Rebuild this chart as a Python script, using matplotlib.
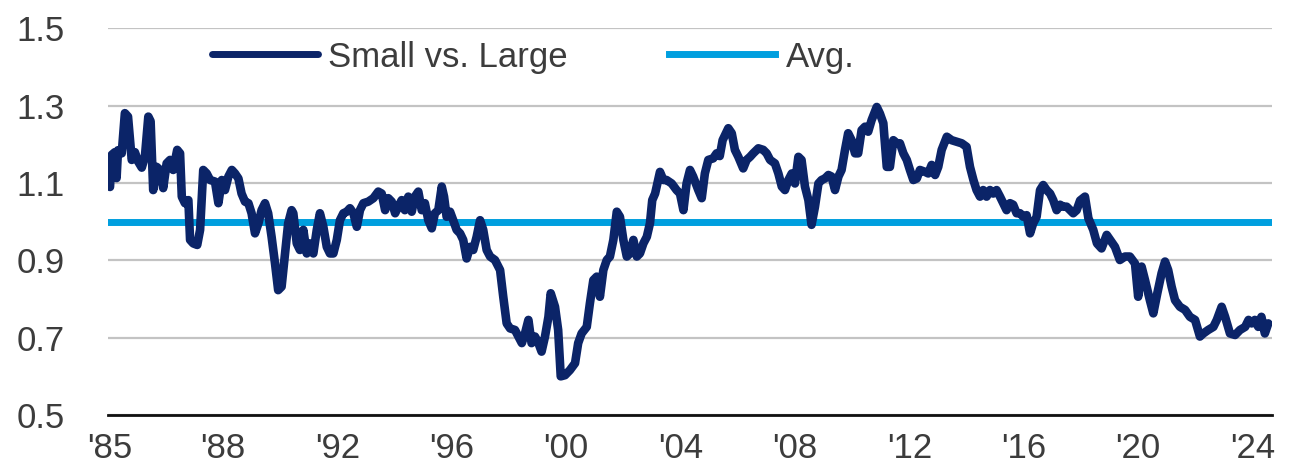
import matplotlib
matplotlib.use("Agg")
import matplotlib.pyplot as plt

plt.rcParams['font.family'] = ['Liberation Sans', 'DejaVu Sans']

# ---- data (decimal years, ratio) ----
years = [
    1985.00, 1985.06, 1985.17, 1985.23, 1985.28, 1985.41, 1985.52, 1985.63, 1985.76, 1985.87,
    1985.99, 1986.11, 1986.22, 1986.34, 1986.42, 1986.51, 1986.63, 1986.75, 1986.86, 1986.98,
    1987.10, 1987.21, 1987.35, 1987.45, 1987.51, 1987.62, 1987.74, 1987.80, 1987.91, 1988.05,
    1988.15, 1988.26, 1988.38, 1988.50, 1988.67, 1988.79, 1988.91, 1989.02, 1989.14, 1989.26,
    1989.37, 1989.49, 1989.60, 1989.72, 1989.84, 1989.95, 1990.07, 1990.19, 1990.30, 1990.42,
    1990.53, 1990.65, 1990.77, 1990.88, 1991.00, 1991.12, 1991.23, 1991.35, 1991.41, 1991.53,
    1991.64, 1991.76, 1991.88, 1991.99, 1992.11, 1992.23, 1992.34, 1992.46, 1992.58, 1992.69,
    1992.81, 1992.93, 1993.04, 1993.16, 1993.28, 1993.39, 1993.51, 1993.63, 1993.74, 1993.86,
    1994.03, 1994.21, 1994.38, 1994.50, 1994.62, 1994.73, 1994.85, 1994.97, 1995.08, 1995.20,
    1995.31, 1995.43, 1995.55, 1995.66, 1995.78, 1995.90, 1996.01, 1996.13, 1996.25, 1996.36,
    1996.48, 1996.60, 1996.68, 1996.77, 1996.89, 1997.00, 1997.12, 1997.24, 1997.35, 1997.47,
    1997.59, 1997.70, 1997.82, 1997.94, 1998.05, 1998.17, 1998.29, 1998.46, 1998.64, 1998.75,
    1998.87, 1998.99, 1999.16, 1999.28, 1999.40, 1999.51, 1999.63, 1999.74, 1999.86, 1999.98,
    2000.09, 2000.21, 2000.33, 2000.41, 2000.56, 2000.67, 2000.76, 2000.91, 2001.08, 2001.26,
    2001.37, 2001.49, 2001.67, 2001.78, 2001.90, 2002.02, 2002.13, 2002.25, 2002.37, 2002.48,
    2002.60, 2002.72, 2002.83, 2002.95, 2003.07, 2003.18, 2003.30, 2003.42, 2003.53, 2003.65,
    2003.77, 2003.88, 2003.96, 2004.06, 2004.23, 2004.35, 2004.46, 2004.64, 2004.81, 2004.93,
    2005.05, 2005.16, 2005.28, 2005.39, 2005.57, 2005.69, 2005.80, 2005.92, 2006.09, 2006.21,
    2006.32, 2006.42, 2006.62, 2006.74, 2006.85, 2006.97, 2007.14, 2007.26, 2007.38, 2007.49,
    2007.67, 2007.84, 2007.96, 2008.08, 2008.25, 2008.37, 2008.49, 2008.60, 2008.72, 2008.84,
    2008.95, 2009.07, 2009.18, 2009.30, 2009.42, 2009.53, 2009.65, 2009.77, 2009.88, 2010.00,
    2010.12, 2010.23, 2010.35, 2010.47, 2010.58, 2010.70, 2010.81, 2010.93, 2011.05, 2011.16,
    2011.28, 2011.40, 2011.51, 2011.63, 2011.81, 2011.92, 2012.04, 2012.16, 2012.27, 2012.39,
    2012.51, 2012.62, 2012.74, 2012.86, 2012.97, 2013.09, 2013.21, 2013.32, 2013.50, 2013.61,
    2013.73, 2013.85, 2013.96, 2014.08, 2014.26, 2014.43, 2014.61, 2014.78, 2014.95, 2015.07,
    2015.19, 2015.30, 2015.42, 2015.53, 2015.65, 2015.77, 2015.88, 2016.00, 2016.12, 2016.23,
    2016.35, 2016.47, 2016.58, 2016.70, 2016.82, 2016.93, 2017.05, 2017.17, 2017.28, 2017.40,
    2017.52, 2017.63, 2017.75, 2017.87, 2017.98, 2018.10, 2018.22, 2018.33, 2018.45, 2018.57,
    2018.68, 2018.80, 2018.92, 2019.09, 2019.21, 2019.38, 2019.51, 2019.67, 2019.85, 2019.97,
    2020.14, 2020.31, 2020.49, 2020.66, 2020.84, 2020.95, 2021.07, 2021.19, 2021.36, 2021.48,
    2021.62, 2021.77, 2021.89, 2022.00, 2022.12, 2022.24, 2022.41, 2022.59, 2022.76, 2022.94,
    2023.11, 2023.23, 2023.40, 2023.58, 2023.70, 2023.87, 2023.99, 2024.16, 2024.34, 2024.51,
    2024.69, 2024.81, 2024.92, 2025.03, 2025.15, 2025.26, 2025.38, 2025.50,
]
small_vs_large = [
    1.090, 1.173, 1.180, 1.113, 1.185, 1.177, 1.281, 1.272, 1.160, 1.180,
    1.155, 1.140, 1.168, 1.272, 1.260, 1.082, 1.142, 1.134, 1.087, 1.151,
    1.160, 1.134, 1.186, 1.177, 1.065, 1.048, 1.056, 0.953, 0.944, 0.940,
    0.979, 1.134, 1.125, 1.108, 1.104, 1.048, 1.108, 1.082, 1.117, 1.134,
    1.125, 1.112, 1.073, 1.052, 1.048, 1.022, 0.970, 0.996, 1.030, 1.048,
    1.022, 0.961, 0.892, 0.823, 0.832, 0.918, 0.996, 1.030, 1.022, 0.944,
    0.927, 0.979, 0.918, 0.944, 0.918, 0.979, 1.022, 0.987, 0.935, 0.918,
    0.918, 0.953, 1.004, 1.022, 1.026, 1.035, 1.022, 0.987, 1.030, 1.048,
    1.052, 1.061, 1.078, 1.073, 1.030, 1.061, 1.052, 1.022, 1.039, 1.056,
    1.030, 1.065, 1.026, 1.065, 1.078, 1.030, 1.048, 1.004, 0.983, 1.022,
    1.030, 1.091, 1.065, 1.013, 1.026, 1.004, 0.979, 0.970, 0.953, 0.905,
    0.935, 0.927, 0.961, 1.004, 0.979, 0.927, 0.910, 0.901, 0.875, 0.806,
    0.737, 0.724, 0.720, 0.703, 0.686, 0.711, 0.746, 0.686, 0.703, 0.686,
    0.664, 0.703, 0.754, 0.815, 0.780, 0.720, 0.600, 0.603, 0.616, 0.634,
    0.686, 0.711, 0.728, 0.789, 0.849, 0.858, 0.806, 0.875, 0.901, 0.910,
    0.953, 1.026, 1.013, 0.953, 0.910, 0.918, 0.953, 0.910, 0.918, 0.944,
    0.961, 0.996, 1.056, 1.073, 1.129, 1.108, 1.108, 1.099, 1.082, 1.073,
    1.030, 1.099, 1.134, 1.117, 1.082, 1.061, 1.125, 1.160, 1.164, 1.177,
    1.170, 1.211, 1.242, 1.229, 1.186, 1.168, 1.138, 1.160, 1.168, 1.177,
    1.190, 1.186, 1.177, 1.160, 1.151, 1.125, 1.091, 1.082, 1.108, 1.125,
    1.099, 1.168, 1.160, 1.091, 1.056, 0.992, 1.039, 1.099, 1.108, 1.112,
    1.121, 1.117, 1.082, 1.117, 1.134, 1.186, 1.229, 1.211, 1.177, 1.177,
    1.237, 1.246, 1.233, 1.263, 1.297, 1.280, 1.255, 1.142, 1.142, 1.211,
    1.203, 1.203, 1.177, 1.160, 1.134, 1.108, 1.112, 1.134, 1.129, 1.125,
    1.147, 1.121, 1.142, 1.186, 1.220, 1.211, 1.207, 1.203, 1.194, 1.142,
    1.108, 1.082, 1.065, 1.082, 1.065, 1.082, 1.073, 1.082, 1.065, 1.048,
    1.030, 1.048, 1.044, 1.022, 1.022, 1.013, 1.017, 0.970, 0.996, 1.013,
    1.082, 1.095, 1.082, 1.073, 1.056, 1.030, 1.044, 1.039, 1.039, 1.030,
    1.022, 1.030, 1.055, 1.065, 1.009, 0.979, 0.944, 0.931, 0.966, 0.953,
    0.935, 0.901, 0.910, 0.910, 0.892, 0.806, 0.884, 0.849, 0.797, 0.763,
    0.815, 0.867, 0.897, 0.875, 0.832, 0.797, 0.780, 0.772, 0.754, 0.746,
    0.703, 0.711, 0.720, 0.728, 0.746, 0.780, 0.754, 0.711, 0.707, 0.720,
    0.728, 0.746, 0.737, 0.746, 0.728, 0.754, 0.711, 0.737,
]
average = 1.0
series_labels = ["Small vs. Large", "Avg."]

y_ticks = [0.5, 0.7, 0.9, 1.1, 1.3, 1.5]
x_tick_labels = ["'85", "'88", "'92", "'96", "'00", "'04", "'08", "'12", "'16", "'20", "'24"]
x_tick_years = [1985.0, 1988.95, 1992.95, 1996.95, 2000.95, 2004.95,
                2008.95, 2012.95, 2016.95, 2020.95, 2024.95]

# ---- style ----
NAVY = '#0b2468'
LIGHT = '#009fdf'
GRID = '#c3c3c3'
TEXT = '#3c3c3c'
FS = 25

fig = plt.figure(figsize=(12.9, 4.69), dpi=100)
ax = fig.add_axes([108 / 1290, 1 - 415 / 469, (1272 - 108) / 1290, (415 - 28.5) / 469])

ax.axhline(average, color=LIGHT, lw=5, zorder=2, label=series_labels[1])
ax.plot(years, small_vs_large, color=NAVY, lw=6.2, solid_joinstyle='round',
        solid_capstyle='round', zorder=3, label=series_labels[0])

ax.set_xlim(1984.93, 2025.63)
ax.set_ylim(0.5, 1.5)
ax.set_yticks(y_ticks)
ax.set_yticklabels([f"{v:.1f}" for v in y_ticks])
ax.set_xticks(x_tick_years)
ax.set_xticklabels(x_tick_labels)

ax.grid(axis='y', color=GRID, lw=1.6, zorder=0)
ax.set_axisbelow(True)
for s in ['top', 'right', 'left']:
    ax.spines[s].set_visible(False)
ax.spines['bottom'].set_color('#111111')
ax.spines['bottom'].set_linewidth(2.0)
ax.spines['bottom'].set_zorder(4)

ax.tick_params(axis='both', length=0, labelsize=FS, labelcolor=TEXT)
ax.tick_params(axis='y', pad=31)
ax.tick_params(axis='x', pad=12)

handles, labels = ax.get_legend_handles_labels()
order = [labels.index(series_labels[0]), labels.index(series_labels[1])]
leg = ax.legend([handles[i] for i in order], [labels[i] for i in order],
                loc='center left', bbox_to_anchor=(212 / 1290, 1 - 57 / 469),
                bbox_transform=fig.transFigure, ncol=2, frameon=False,
                fontsize=FS, handlelength=3.05, handletextpad=0.3,
                columnspacing=2.92, borderpad=0, borderaxespad=0)
for line in leg.get_lines():
    line.set_linewidth(5)
for t in leg.get_texts():
    t.set_color(TEXT)

fig.savefig('out.png', dpi=100)
